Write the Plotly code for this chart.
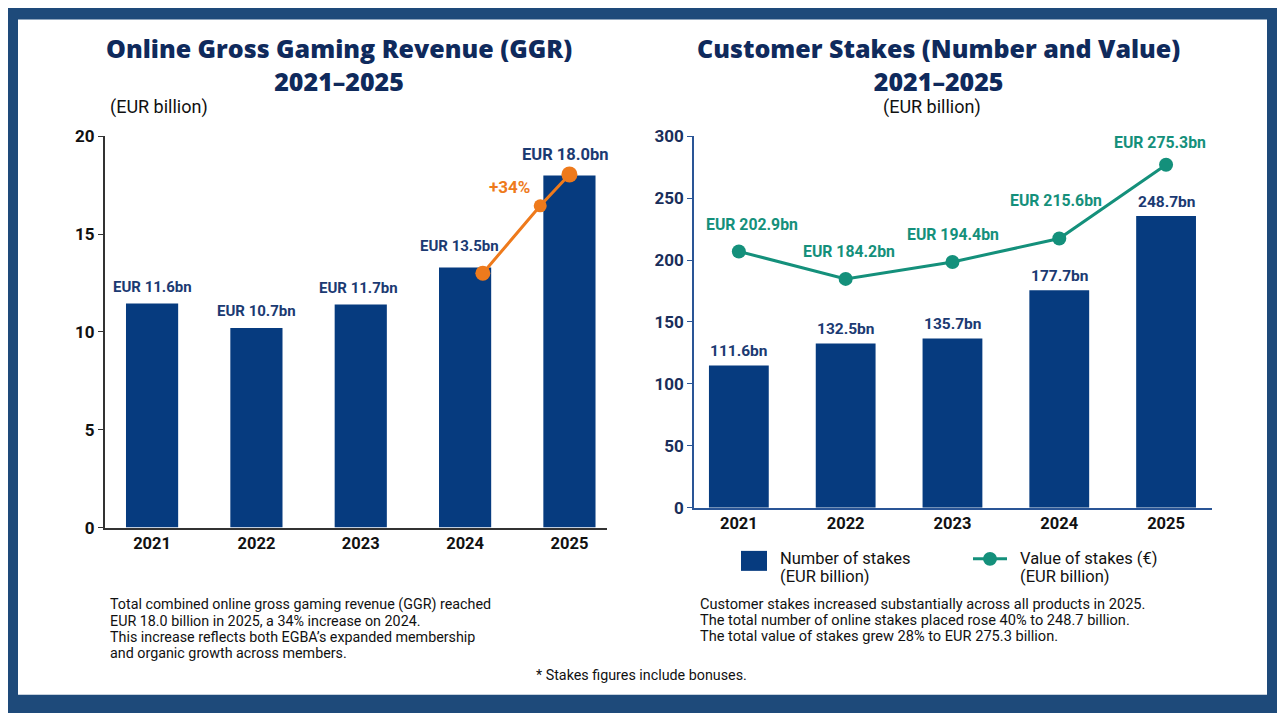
import plotly.graph_objects as go

# ---- data ----
years = ["2021", "2022", "2023", "2024", "2025"]

# left chart: online GGR (EUR bn), bar heights as drawn + printed labels
ggr_values = [11.45, 10.2, 11.4, 13.3, 18.0]
ggr_labels = ["EUR 11.6bn", "EUR 10.7bn", "EUR 11.7bn", "EUR 13.5bn", "EUR 18.0bn"]

# orange growth line 2024 -> 2025
growth_x = [3.17, 3.72, 4.0]
growth_y = [13.0, 16.45, 18.05]
growth_label = "+34%"

# right chart: customer stakes
stakes_number = [114.9, 132.7, 136.7, 175.7, 235.7]
stakes_number_labels = ["111.6bn", "132.5bn", "135.7bn", "177.7bn", "248.7bn"]
stakes_value = [207.0, 184.8, 198.5, 217.4, 277.0]
stakes_value_labels = ["EUR 202.9bn", "EUR 184.2bn", "EUR 194.4bn", "EUR 215.6bn", "EUR 275.3bn"]

left_ticks = [0, 5, 10, 15, 20]
right_ticks = [0, 50, 100, 150, 200, 250, 300]

left_title = ["Online Gross Gaming Revenue (GGR)", "2021\u20132025"]
right_title = ["Customer Stakes (Number and Value)", "2021\u20132025"]

left_note = ["Total combined online gross gaming revenue (GGR) reached",
             "EUR 18.0 billion in 2025, a 34% increase on 2024.",
             "This increase reflects both EGBA\u2019s expanded membership",
             "and organic growth across members."]
right_note = ["Customer stakes increased substantially across all products in 2025.",
              "The total number of online stakes placed rose 40% to 248.7 billion.",
              "The total value of stakes grew 28% to EUR 275.3 billion."]
footnote = "* Stakes figures include bonuses."

# ---- styling ----
W, H = 1285, 713
BORDER = "#1e4a7a"
NAVY = "#063b7f"
TITLE = "#0f2a5c"
LABEL = "#1b3a72"
ORANGE = "#ee7a1c"
TEAL = "#14907b"
FONT = "Roboto, Arial, sans-serif"
TITLE_FONT = "Open Sans, Roboto, Arial, sans-serif"
NOTE_FONT = "Roboto, Arial, sans-serif"


# page positions (pixels on the final picture) -> paper fractions;
# the page puts the figure a little lower and squeezes it slightly in height
def fx(p):
    return (p - 8) / W


def fy(p):
    return 1 - (p / 0.973 - 17) / H


xpos = list(range(len(years)))

fig = go.Figure()

# left bars
fig.add_trace(go.Bar(x=xpos, y=ggr_values, width=0.5, marker_color=NAVY,
                     marker_line_width=0, xaxis="x", yaxis="y", showlegend=False))
fig.add_trace(go.Scatter(x=growth_x, y=growth_y, mode="lines+markers",
                         line=dict(color=ORANGE, width=3),
                         marker=dict(color=ORANGE, size=[15, 13, 16], opacity=1,
                                     line=dict(width=0)),
                         xaxis="x", yaxis="y", showlegend=False))

# right bars + line
fig.add_trace(go.Bar(x=xpos, y=stakes_number, width=0.56, marker_color=NAVY,
                     marker_line_width=0, xaxis="x2", yaxis="y2", showlegend=False))
fig.add_trace(go.Scatter(x=xpos, y=stakes_value, mode="lines+markers",
                         line=dict(color=TEAL, width=3),
                         marker=dict(color=TEAL, size=14),
                         xaxis="x2", yaxis="y2", showlegend=False))

ann = []

# left bar labels
left_shift = [6, 6, 6, 10, 9]
left_xshift = [0, 0, -2, -6, -4]
left_size = [15, 15, 15, 15, 16.5]
for i, (v, t) in enumerate(zip(ggr_values, ggr_labels)):
    ann.append(dict(x=i, y=v, xref="x", yref="y", text="<b>%s</b>" % t,
                    showarrow=False, yanchor="bottom", yshift=left_shift[i],
                    xshift=left_xshift[i],
                    font=dict(family=FONT, size=left_size[i], color=LABEL)))
ann.append(dict(x=3.43, y=17.4, xref="x", yref="y", text="<b>%s</b>" % growth_label,
                showarrow=False, font=dict(family=FONT, size=17, color=ORANGE)))

# right bar labels
for i, (v, t) in enumerate(zip(stakes_number, stakes_number_labels)):
    ann.append(dict(x=i, y=v, xref="x2", yref="y2", text="<b>%s</b>" % t,
                    showarrow=False, yanchor="bottom", yshift=3,
                    font=dict(family=FONT, size=15.5, color=LABEL)))
# right line labels
val_shift = [15, 16, 16, 27, 11]
val_xshift = [13, 3, 1, -3, -6]
for i, (v, t) in enumerate(zip(stakes_value, stakes_value_labels)):
    ann.append(dict(x=i, y=v, xref="x2", yref="y2", text="<b>%s</b>" % t,
                    showarrow=False, yanchor="bottom", yshift=val_shift[i],
                    xshift=val_xshift[i],
                    font=dict(family=FONT, size=15.8, color=TEAL)))

# titles (two lines in one text)
for lines, cx in [(left_title, 339), (right_title, 938)]:
    ann.append(dict(x=fx(cx), y=fy(63), xref="paper", yref="paper",
                    text="<br>".join(lines),
                    showarrow=False, xanchor="center", yanchor="middle",
                    font=dict(family=TITLE_FONT, size=25, color=TITLE, weight=800)))
ann.append(dict(x=fx(108), y=fy(106), xref="paper", yref="paper", text="(EUR billion)",
                showarrow=False, xanchor="left", yanchor="middle",
                font=dict(family=FONT, size=18, color="#111111")))
ann.append(dict(x=fx(932), y=fy(106), xref="paper", yref="paper", text="(EUR billion)",
                showarrow=False, xanchor="center", yanchor="middle",
                font=dict(family=FONT, size=18, color="#111111")))

# notes
for j, line in enumerate(left_note):
    ann.append(dict(x=fx(108), y=fy(604 + 16 * j), xref="paper", yref="paper", text=line,
                    showarrow=False, xanchor="left", yanchor="middle",
                    font=dict(family=NOTE_FONT, size=14.3, color="#111111")))
for j, line in enumerate(right_note):
    ann.append(dict(x=fx(698), y=fy(603 + 16 * j), xref="paper", yref="paper", text=line,
                    showarrow=False, xanchor="left", yanchor="middle",
                    font=dict(family=NOTE_FONT, size=14.6, color="#111111")))
ann.append(dict(x=fx(641), y=fy(674), xref="paper", yref="paper", text=footnote,
                showarrow=False, xanchor="center", yanchor="middle",
                font=dict(family=NOTE_FONT, size=14.3, color="#111111")))

# legend (drawn by hand to match the big swatches)
legend_items = [("Number of stakes", "(EUR billion)", 778), ("Value of stakes (\u20ac)", "(EUR billion)", 1018)]
for name, unit, lx in legend_items:
    ann.append(dict(x=fx(lx), y=fy(558), xref="paper", yref="paper", text=name,
                    showarrow=False, xanchor="left", yanchor="middle",
                    font=dict(family=FONT, size=16.5, color="#111111")))
    ann.append(dict(x=fx(lx), y=fy(576), xref="paper", yref="paper", text=unit,
                    showarrow=False, xanchor="left", yanchor="middle",
                    font=dict(family=FONT, size=16.5, color="#111111")))

shapes = [
    dict(type="rect", xref="paper", yref="paper", x0=fx(18), x1=fx(1267),
         y0=fy(694), y1=fy(18), fillcolor="white", line_width=0, layer="below"),
    dict(type="rect", xref="paper", yref="paper", x0=fx(741), x1=fx(767),
         y0=fy(570), y1=fy(550), fillcolor=NAVY, line_width=0),
    dict(type="line", xref="paper", yref="paper", x0=fx(973), x1=fx(1007),
         y0=fy(558), y1=fy(558), line=dict(color=TEAL, width=3)),
    dict(type="circle", xref="paper", yref="paper", x0=fx(983), x1=fx(997),
         y0=fy(565), y1=fy(551), fillcolor=TEAL, line_width=0),
]

axis_common = dict(showgrid=False, zeroline=False, fixedrange=True)

fig.update_layout(
    width=W, height=H,
    margin=dict(l=0, r=0, t=0, b=0),
    paper_bgcolor=BORDER, plot_bgcolor="white",
    annotations=ann, shapes=shapes,
    xaxis=dict(domain=[fx(104.6), fx(607)], range=[-0.455, 4.36],
               tickvals=xpos, ticktext=["<b>%s</b>" % y for y in years],
               showline=True, linecolor="#333333", linewidth=1.5, ticks="",
               tickfont=dict(family=FONT, size=16.5, color="#111111"), anchor="y", **axis_common),
    yaxis=dict(domain=[fy(526.7), fy(135)], range=[0, 20],
               tickvals=left_ticks, ticktext=["<b>%d</b>" % t for t in left_ticks],
               showline=True, linecolor="#333333", linewidth=1.5, ticks="outside",
               ticklen=5, tickcolor="#333333",
               tickfont=dict(family=FONT, size=17, color="#111111"), anchor="x", **axis_common),
    xaxis2=dict(domain=[fx(694), fx(1212)], range=[-0.42, 4.43],
                tickvals=xpos, ticktext=["<b>%s</b>" % y for y in years],
                showline=True, linecolor="#2a5596", linewidth=1.5, ticks="",
                tickfont=dict(family=FONT, size=16.5, color="#111111"), anchor="y2", **axis_common),
    yaxis2=dict(domain=[fy(506.7), fy(135)], range=[0, 300],
                tickvals=right_ticks, ticktext=["<b>%d</b>" % t for t in right_ticks],
                showline=True, linecolor="#2a5596", linewidth=1.5, ticks="outside",
                ticklen=5, tickcolor="#2a5596",
                tickfont=dict(family=FONT, size=17, color="#1a2e5a"), anchor="x2", **axis_common),
)

fig.write_html("out.html")
